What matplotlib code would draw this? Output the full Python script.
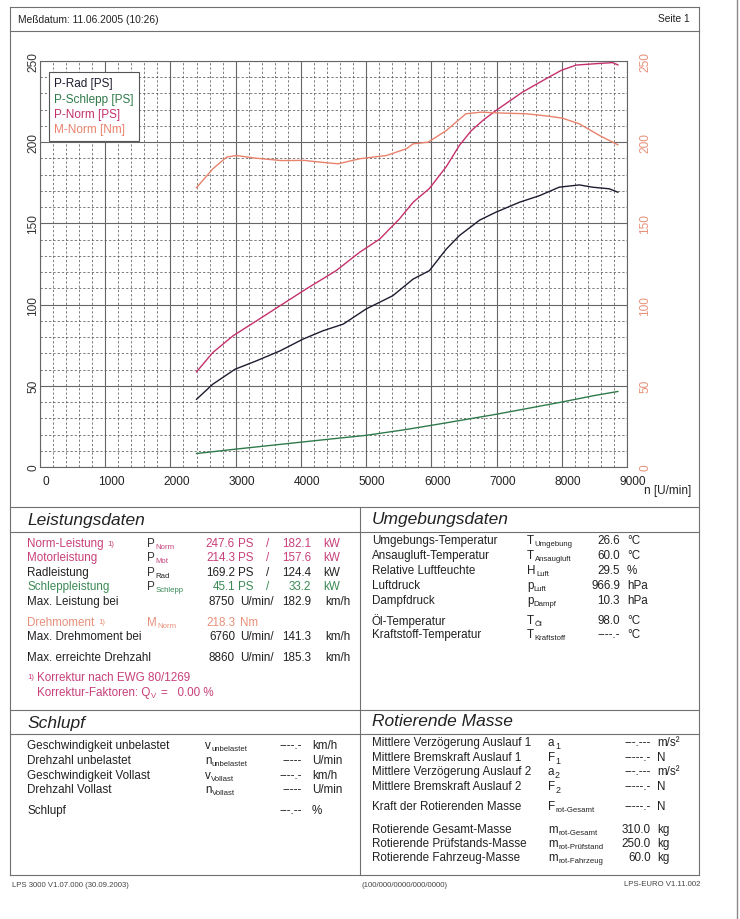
import matplotlib.pyplot as plt
import matplotlib.transforms as mtransforms
from matplotlib.lines import Line2D
import numpy as np

plt.rcParams['font.family'] = ['Liberation Sans', 'DejaVu Sans']

# Messkurven
rpm_norm = [2400, 2650, 2960, 3320, 3680, 4080, 4540, 4900, 5210, 5360, 5510, 5720, 5970,
            6230, 6430, 6610, 6790, 6990, 7400, 7760, 7990, 8220, 8580, 8780, 8860]
p_norm = [58.6, 70.5, 80.8, 90.0, 99.3, 109.6, 120.9, 132.2, 140.4, 146.6, 152.7, 163.0, 171.5,
          185.0, 198.0, 207.0, 213.4, 219.5, 230.9, 239.1, 244.2, 247.5, 248.5, 249.0, 247.6]

rpm_rad = [2400, 2650, 2990, 3320, 3680, 4030, 4340, 4650, 5000, 5410, 5720, 5970, 6230,
           6430, 6740, 6990, 7350, 7660, 7960, 8270, 8470, 8730, 8860]
p_rad = [41.7, 51.0, 60.2, 65.4, 71.5, 78.7, 83.9, 88.0, 97.3, 105.5, 115.7, 120.9, 134.2,
         142.5, 152.0, 156.9, 163.0, 167.1, 172.3, 173.7, 172.3, 171.3, 169.2]

rpm_m = [2400, 2650, 2860, 3010, 3300, 3700, 4050, 4300, 4570, 4900, 5310, 5620, 5720, 5950,
         6230, 6530, 6760, 7040, 7450, 7760, 8010, 8270, 8580, 8860]
m_norm = [172.0, 183.6, 190.8, 191.8, 190.2, 188.7, 188.8, 187.7, 186.7, 189.8, 191.8, 196.0,
          199.0, 200.0, 207.2, 217.5, 218.5, 218.0, 217.5, 216.2, 214.8, 211.3, 204.1, 198.4]

rpm_schlepp = [2400, 3000, 3700, 4400, 5000, 5600, 6200, 7000, 7600, 8000, 8500, 8860]
p_schlepp = [8.3, 11.0, 14.0, 17.0, 19.5, 23.0, 27.0, 32.5, 37.0, 40.0, 44.0, 46.5]

legend_labels = ['P-Rad [PS]', 'P-Schlepp [PS]', 'P-Norm [PS]', 'M-Norm [Nm]']

c_rad = '#1c1c30'
c_schlepp = '#2f7a4a'
c_norm = '#c5306c'
c_m = '#e8826c'
c_m_txt = '#e8917a'

W, H = 740, 920
fig = plt.figure(figsize=(7.4, 9.2), dpi=100)
fig.patch.set_facecolor('white')
renderer = fig.canvas.get_renderer()

def fx(x):
    return x / W

def fy(y):
    return 1 - y / H

# ---------- Diagramm ----------
ax = fig.add_axes([fx(40), fy(468), (627 - 40) / W, (468 - 62) / H])
ax.set_xlim(0, 9000)
ax.set_ylim(0, 250)
ax.set_xticks(np.arange(0, 9001, 1000))
ax.set_xticks(np.arange(0, 9001, 200), minor=True)
ax.set_yticks(np.arange(0, 251, 50))
ax.set_yticks(np.arange(0, 251, 10), minor=True)
ax.grid(which='major', color='#666666', lw=0.8, ls='-')
ax.grid(which='minor', color='#5a5a5a', lw=0.55, ls=(0, (3, 2.6)))
ax.set_axisbelow(True)
ax.tick_params(which='both', length=0)
ax.tick_params(axis='x', labelsize=8.6, pad=6, labelcolor='#222')
ax.tick_params(axis='y', labelsize=8.6, pad=0.5, labelcolor='#333')
for lab in ax.get_yticklabels():
    lab.set_rotation(90)
    lab.set_va('center')
offset = mtransforms.ScaledTranslation(0.06, 0, fig.dpi_scale_trans)
for lab in ax.get_xticklabels():
    lab.set_transform(lab.get_transform() + offset)
for s in ax.spines.values():
    s.set_color('#666666')
    s.set_linewidth(0.8)

l_rad, = ax.plot(rpm_rad, p_rad, color=c_rad, lw=1.0)
l_schlepp, = ax.plot(rpm_schlepp, p_schlepp, color=c_schlepp, lw=1.0)
l_norm, = ax.plot(rpm_norm, p_norm, color=c_norm, lw=1.0)

ax2 = ax.twinx()
ax2.set_ylim(0, 250)
ax2.set_yticks(np.arange(0, 251, 50))
ax2.tick_params(length=0, labelsize=8.6, pad=9, labelcolor=c_m_txt)
for lab in ax2.get_yticklabels():
    lab.set_rotation(90)
    lab.set_va('center')
for s in ax2.spines.values():
    s.set_visible(False)
l_m, = ax2.plot(rpm_m, m_norm, color=c_m, lw=1.0)

leg = ax2.legend([l_rad, l_schlepp, l_norm, l_m], legend_labels, loc='upper left',
                 bbox_to_anchor=(fx(49), fy(73)), bbox_transform=fig.transFigure,
                 borderaxespad=0, handlelength=0, handletextpad=0, fontsize=8.5,
                 labelspacing=0.28, borderpad=0.45, fancybox=False, framealpha=1,
                 edgecolor='#555555')
leg.get_frame().set_linewidth(0.8)
for h in leg.legend_handles:
    h.set_visible(False)
for t, c in zip(leg.get_texts(), [c_rad, c_schlepp, c_norm, c_m]):
    t.set_color(c)

# ---------- Hilfsfunktionen fuer Seite ----------
def txt(x, y, s, size=8.4, color='#222222', ha='left', **kw):
    return fig.text(fx(x), fy(y), s, fontsize=size, color=color, ha=ha, va='center', **kw)

def sym(x, y, base, sub, color='#222222', subcolor=None, subsize=5.6):
    t = txt(x, y, base, color=color)
    if sub:
        bb = t.get_window_extent(renderer)
        txt(bb.x1 + 0.5, y + 3.5, sub, size=subsize, color=subcolor or color)

def hline(y, x0=10, x1=699, lw=0.8, c='#707070'):
    fig.add_artist(Line2D([fx(x0), fx(x1)], [fy(y), fy(y)], lw=lw, color=c))

def vline(x, y0, y1, lw=0.8, c='#707070'):
    fig.add_artist(Line2D([fx(x), fx(x)], [fy(y0), fy(y1)], lw=lw, color=c))

txt(644, 491, 'n [U/min]', size=8.5)

# Rahmen
hline(8)
hline(32)
hline(508)
hline(533)
hline(711)
hline(735)
hline(876)
vline(10, 8, 876)
vline(699, 8, 876)
vline(360, 508, 876)
vline(737, 0, 920, lw=1.0, c='#888888')

# Kopf und Fuss
txt(18, 20, 'Meßdatum: 11.06.2005 (10:26)', size=7.4)
txt(690, 19, 'Seite 1', size=7.4, ha='right')
txt(12, 886, 'LPS 3000 V1.07.000 (30.09.2003)', size=5.6, color='#444444')
txt(362, 886, '(100/000/0000/000/0000)', size=5.6, color='#444444')
txt(700, 885, 'LPS-EURO V1.11.002', size=5.6, color='#444444', ha='right')

# ---------- Leistungsdaten ----------
c_mag = '#c8407a'
c_grn = '#3a8a55'
c_or = '#e8907a'
txt(27, 521, 'Leistungsdaten', size=12.5, style='italic')

leist_rows = [
    ('Norm-Leistung', True, 'P', 'Norm', '247.6', 'PS', '182.1', 'kW', c_mag, 544),
    ('Motorleistung', False, 'P', 'Mot', '214.3', 'PS', '157.6', 'kW', c_mag, 558),
    ('Radleistung', False, 'P', 'Rad', '169.2', 'PS', '124.4', 'kW', '#222222', 573),
    ('Schleppleistung', False, 'P', 'Schlepp', '45.1', 'PS', '33.2', 'kW', c_grn, 587),
]
for lab, note, b, sb, v1, u1, v2, u2, col, y in leist_rows:
    t = txt(27, y, lab, color=col)
    if note:
        bb = t.get_window_extent(renderer)
        txt(bb.x1 + 4, y, '1)', size=5.6, color=col)
    sym(147, y, b, sb, color='#333333', subcolor=col)
    txt(235, y, v1, color=col, ha='right')
    txt(238, y, u1, color=col)
    txt(266, y, '/', color=col)
    txt(311, y, v2, color=col, ha='right')
    txt(323, y, u2, color=col)

txt(27, 602, 'Max. Leistung bei')
txt(235, 602, '8750', ha='right')
txt(240, 602, 'U/min/')
txt(311, 602, '182.9', ha='right')
txt(325, 602, 'km/h')

t = txt(27, 623, 'Drehmoment', color=c_or)
bb = t.get_window_extent(renderer)
txt(bb.x1 + 4, 623, '1)', size=5.6, color=c_or)
sym(147, 623, 'M', 'Norm', color=c_or)
txt(235, 623, '218.3', color=c_or, ha='right')
txt(240, 623, 'Nm', color=c_or)

txt(27, 637, 'Max. Drehmoment bei')
txt(235, 637, '6760', ha='right')
txt(240, 637, 'U/min/')
txt(311, 637, '141.3', ha='right')
txt(325, 637, 'km/h')

txt(27, 658, 'Max. erreichte Drehzahl')
txt(235, 658, '8860', ha='right')
txt(240, 658, 'U/min/')
txt(311, 658, '185.3', ha='right')
txt(325, 658, 'km/h')

txt(27, 678, '1)', size=5.6, color=c_mag)
txt(37, 678, 'Korrektur nach EWG 80/1269', color=c_mag)
sym(37, 693, 'Korrektur-Faktoren: Q', 'V', color=c_mag)
txt(161, 693, '=   0.00 %', color=c_mag)

# ---------- Umgebungsdaten ----------
txt(372, 520, 'Umgebungsdaten', size=12.5, style='italic')
umg_rows = [
    ('Umgebungs-Temperatur', 'T', 'Umgebung', '26.6', '°C', 541),
    ('Ansaugluft-Temperatur', 'T', 'Ansaugluft', '60.0', '°C', 556),
    ('Relative Luftfeuchte', 'H', 'Luft', '29.5', '%', 571),
    ('Luftdruck', 'p', 'Luft', '966.9', 'hPa', 586),
    ('Dampfdruck', 'p', 'Dampf', '10.3', 'hPa', 601),
    ('Öl-Temperatur', 'T', 'Öl', '98.0', '°C', 621),
    ('Kraftstoff-Temperatur', 'T', 'Kraftstoff', '----.-', '°C', 635),
]
for lab, b, sb, v, u, y in umg_rows:
    txt(372, y, lab)
    sym(527, y, b, sb)
    txt(620, y, v, ha='right')
    txt(627, y, u)

# ---------- Schlupf ----------
txt(27, 724, 'Schlupf', size=12.5, style='italic')
schlupf_rows = [
    ('Geschwindigkeit unbelastet', 'v', 'unbelastet', '----.-', 'km/h', 746),
    ('Drehzahl unbelastet', 'n', 'unbelastet', '-----', 'U/min', 761),
    ('Geschwindigkeit Vollast', 'v', 'Vollast', '----.-', 'km/h', 776),
    ('Drehzahl Vollast', 'n', 'Vollast', '-----', 'U/min', 790),
    ('Schlupf', '', '', '---.--', '%', 811),
]
for lab, b, sb, v, u, y in schlupf_rows:
    txt(27, y, lab)
    if b:
        sym(205, y, b, sb)
    txt(302, y, v, ha='right')
    txt(312, y, u)

# ---------- Rotierende Masse ----------
txt(372, 722, 'Rotierende Masse', size=12.5, style='italic')
rot_rows = [
    ('Mittlere Verzögerung Auslauf 1', 'a', '1', '---.---', 'm/s²', 743),
    ('Mittlere Bremskraft Auslauf 1', 'F', '1', '-----.-', 'N', 758),
    ('Mittlere Verzögerung Auslauf 2', 'a', '2', '---.---', 'm/s²', 772),
    ('Mittlere Bremskraft Auslauf 2', 'F', '2', '-----.-', 'N', 787),
    ('Kraft der Rotierenden Masse', 'F', 'rot-Gesamt', '-----.-', 'N', 807),
    ('Rotierende Gesamt-Masse', 'm', 'rot-Gesamt', '310.0', 'kg', 830),
    ('Rotierende Prüfstands-Masse', 'm', 'rot-Prüfstand', '250.0', 'kg', 844),
    ('Rotierende Fahrzeug-Masse', 'm', 'rot-Fahrzeug', '60.0', 'kg', 858),
]
for lab, b, sb, v, u, y in rot_rows:
    txt(372, y, lab)
    sym(548, y, b, sb, subsize=6.4 if len(sb) == 1 else 5.6)
    txt(651, y, v, ha='right')
    txt(657, y, u)

fig.savefig('out.png', dpi=100, facecolor='white')
